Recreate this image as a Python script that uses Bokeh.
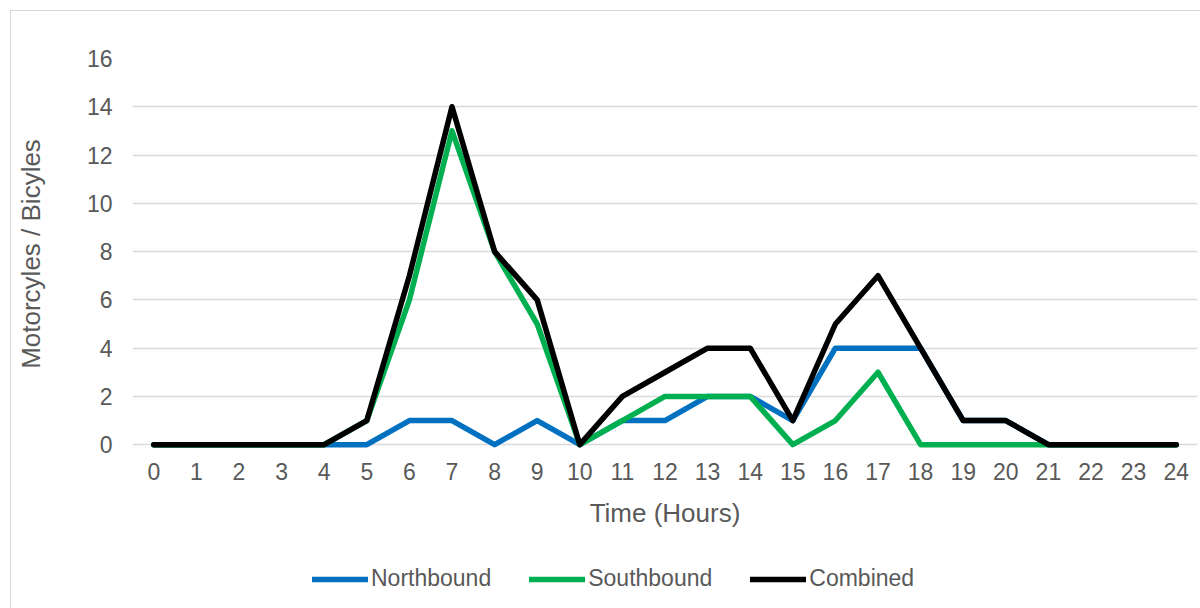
from bokeh.plotting import figure
from bokeh.models import Range1d, FixedTicker, Legend, LegendItem
from bokeh.layouts import column
from bokeh.embed import file_html
from bokeh.resources import INLINE

hours = list(range(25))
tick_labels = [str(h) for h in hours]
northbound = [0, 0, 0, 0, 0, 0, 1, 1, 0, 1, 0, 1, 1, 2, 2, 1, 4, 4, 4, 1, 1, 0, 0, 0, 0]
southbound = [0, 0, 0, 0, 0, 1, 6, 13, 8, 5, 0, 1, 2, 2, 2, 0, 1, 3, 0, 0, 0, 0, 0, 0, 0]
combined = [0, 0, 0, 0, 0, 1, 7, 14, 8, 6, 0, 2, 3, 4, 4, 1, 5, 7, 4, 1, 1, 0, 0, 0, 0]
y_ticks = [0, 2, 4, 6, 8, 10, 12, 14, 16]
series_names = ["Northbound", "Southbound", "Combined"]
series_colors = ["#0070C0", "#00B050", "#000000"]
series_values = [northbound, southbound, combined]

FONT = "Liberation Sans"
TXT = "#595959"
GRAD = "linear-gradient(#d9d9d9,#d9d9d9)"
BG1 = (f"{GRAD} 10px 10px / 1px 700px no-repeat, "
       f"{GRAD} 10px 10px / 1300px 1px no-repeat, white")
BG2 = f"{GRAD} 10px 0px / 1px 700px no-repeat, white"

p = figure(width=1200, height=545, output_backend="svg", toolbar_location=None,
           x_range=Range1d(-0.5, 24.5), y_range=Range1d(-0.2, 16),
           min_border_left=132, min_border_right=3, min_border_top=58, min_border_bottom=96,
           styles={"background": BG1})
p.outline_line_color = None
p.background_fill_alpha = 0
p.border_fill_alpha = 0

p.xaxis.ticker = FixedTicker(ticks=hours)
p.xaxis.major_label_overrides = {h: l for h, l in zip(hours, tick_labels)}
p.yaxis.ticker = FixedTicker(ticks=y_ticks)
for ax in (p.xaxis, p.yaxis):
    ax.axis_line_color = None
    ax.major_tick_line_color = None
    ax.minor_tick_line_color = None
    ax.major_label_text_font = FONT
    ax.major_label_text_font_size = "23px"
    ax.major_label_text_color = TXT
    ax.axis_label_text_font = FONT
    ax.axis_label_text_font_size = "26px"
    ax.axis_label_text_font_style = "normal"
    ax.axis_label_text_color = TXT
p.xaxis.major_label_standoff = 7
p.yaxis.major_label_standoff = 14
p.xaxis.axis_label = "Time (Hours)"
p.yaxis.axis_label = "Motorcyles / Bicyles"
p.xaxis.axis_label_standoff = 15
p.yaxis.axis_label_standoff = 38

p.xgrid.grid_line_color = None
p.ygrid.grid_line_color = "#d9d9d9"
p.ygrid.grid_line_width = 1.5

for vals, col in zip(series_values, series_colors):
    p.line(hours, vals, line_color=col, line_width=5.5, line_cap="round", line_join="round")

# legend strip (its frame is aligned with the main frame by the column layout)
q = figure(width=1200, height=63, output_backend="svg", toolbar_location=None,
           x_axis_type=None, y_axis_type=None, x_range=Range1d(-200, -199), y_range=Range1d(-200, -199),
           min_border_left=132, min_border_right=3, min_border_top=0, min_border_bottom=0,
           styles={"background": BG2})
q.outline_line_color = None
q.background_fill_alpha = 0
q.border_fill_alpha = 0
q.grid.visible = False
items = []
for name, vals, col in zip(series_names, series_values, series_colors):
    r = q.line(hours, vals, line_color=col, line_width=5.5, line_cap="round")
    items.append(LegendItem(label=name, renderers=[r]))
legend = Legend(items=items, orientation="horizontal", location=(180, 16),
                label_text_font=FONT, label_text_font_size="23px", label_text_color=TXT,
                glyph_width=56, glyph_height=24, label_standoff=3, spacing=38,
                padding=0, margin=0, border_line_color=None, background_fill_alpha=0)
q.add_layout(legend, "center")

layout = column(p, q, spacing=0)
open("out.html", "w").write(file_html(layout, INLINE))
